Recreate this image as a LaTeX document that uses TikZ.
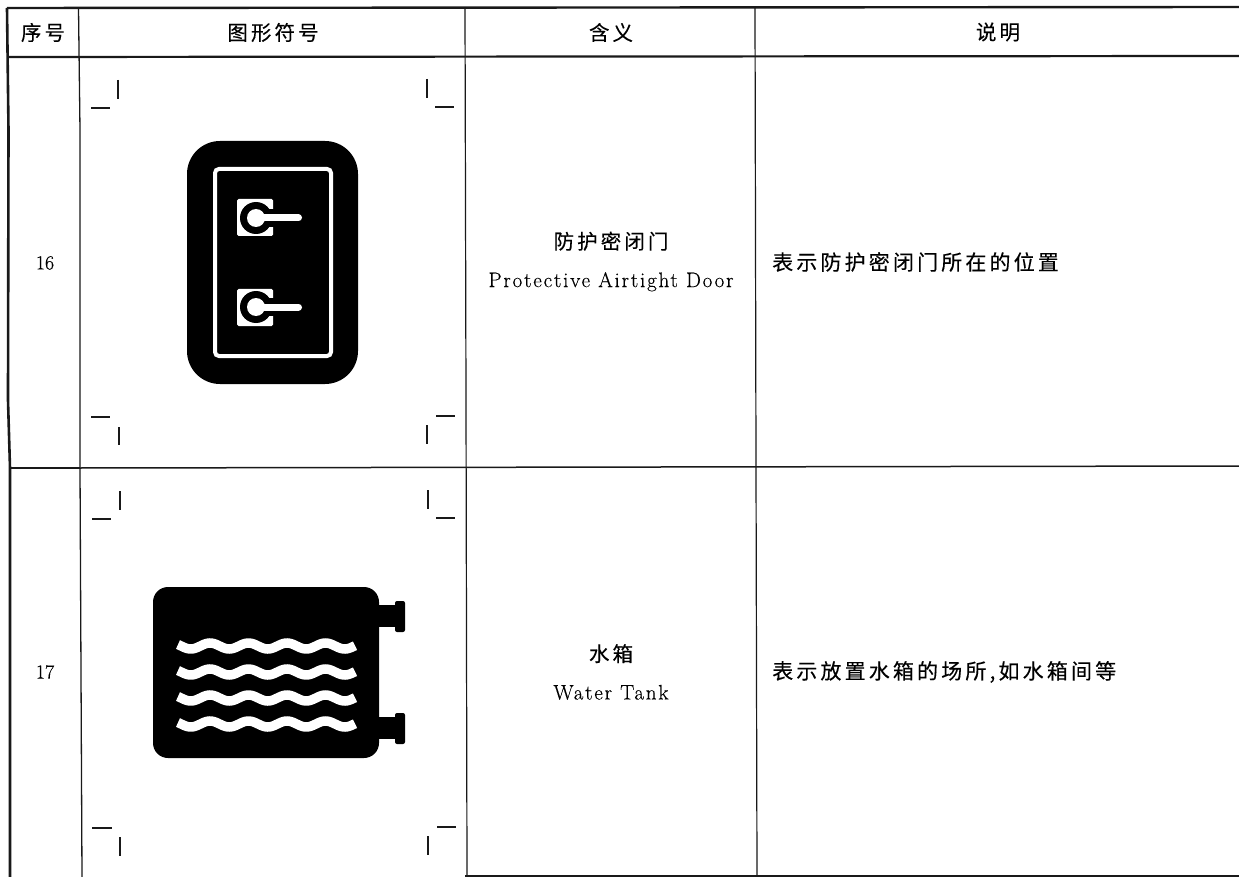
\documentclass[tikz,border=0pt]{standalone}
\usepackage{fontspec}
\newfontfamily\cjk[LetterSpace=15,FakeBold=0.25]{Noto Sans CJK SC}
\newfontfamily\lat[LetterSpace=8.5,FakeBold=0.25]{Latin Modern Roman}
\newfontfamily\digits[FakeBold=0.25]{Latin Modern Roman}
\tikzset{
  x=1pt,y=-1pt,
  rule/.style={line width=#1,black!90},
  crop/.style={line width=2pt,black!90},
  cell/.style={inner sep=0pt,align=center,black},
  hd/.style={cell,font=\cjk\fontsize{20.5}{21}\selectfont},
  num/.style={cell,font=\digits\fontsize{20}{20}\selectfont},
  two/.style={cell,font=\lat\fontsize{21}{38}\selectfont},
  note/.style={cell,anchor=west,font=\cjk\fontsize{21}{21}\selectfont},
}
\newcommand{\cn}[1]{{\cjk\fontsize{20.5}{38}\selectfont #1}}
\newcommand{\handle}[2]{%
  \fill[white,rounded corners=1.5pt] (237,#1-19) rectangle (273,#1+18);
  \fill[black] (256,#2) circle[radius=16];
  \fill[black] (256,#2-9) rectangle (276,#2+9);
  \fill[white] (256,#2) circle[radius=9];
  \draw[white,line width=7pt,line cap=round] (256,#2) -- (298.5,#2);
}
\newcommand{\wave}[1]{%
  \draw[white,line width=9.5pt] plot[domain=178:355,samples=90,smooth] (\x,{#1-3*cos(9.3506*(\x-210))});
}
\begin{document}
\begin{tikzpicture}
\useasboundingbox (0,0) rectangle (1239,877);
\fill[white] (0,0) rectangle (1239,877);
% table rules
\draw[rule=2.4pt] (1239,7) -- (7,8);
\draw[rule=2.6pt] (7,8) -- (8.5,130) -- (8,400) -- (10,468) -- (10,877);
\draw[rule=2.2pt] (8,57) -- (1239,56);
\draw[rule=1.3pt] (9,468) -- (80,468);
\draw[rule=1.5pt] (80,468) -- (1239,466);
\draw[rule=1.3pt] (78.5,8) -- (80,130) -- (80,468) -- (82,877);
\draw[rule=1.2pt] (465,8) -- (466,400) -- (467,877);
\draw[rule=1.2pt] (755,8) -- (756,466) -- (757,877);
\draw[rule=1.2pt] (465,876) -- (1239,876);
% header
\node[hd] (h1) at (43,32.5) {序号};
\node[hd] (h2) at (273,32.5) {图形符号};
\node[hd] (h3) at (611,32.5) {含义};
\node[hd] (h4) at (998,32) {说明};
% row 16
\node[num] (n16) at (45,263) {16};
\node[two] (m16) at (611,261.5) {\cn{防护密闭门}\\Protective Airtight Door};
\node[note] (d16) at (772,262) {表示防护密闭门所在的位置};
% row 17
\node[num] (n17) at (45,672) {17};
\node[two] (m17) at (611,672) {\cn{水箱}\\Water Tank};
\node[note] (d17) at (772,672) {表示放置水箱的场所,如水箱间等};
% crop marks row 16
\draw[crop] (118,80) -- (118,99);
\draw[crop] (91,108) -- (110,108);
\draw[crop] (427,79) -- (427,98);
\draw[crop] (435,107) -- (454,107);
\draw[crop] (91,417) -- (110,417);
\draw[crop] (119,427) -- (119,445);
\draw[crop] (436,416) -- (455,416);
\draw[crop] (427,425) -- (427,444);
% crop marks row 17
\draw[crop] (119.5,491) -- (119.5,510);
\draw[crop] (92,519) -- (111,519);
\draw[crop] (427.5,490) -- (427.5,509);
\draw[crop] (436,518) -- (455,518);
\draw[crop] (92,828) -- (112,828);
\draw[crop] (120,837) -- (120,856);
\draw[crop] (437,827) -- (456,827);
\draw[crop] (428,836) -- (428,855);
% door symbol
\fill[black,rounded corners=33pt] (187,141) rectangle (358,384);
\draw[white,line width=4pt,rounded corners=4pt] (215,169) rectangle (331,356);
\handle{218}{218}
\handle{308}{307}
% tank symbol
\fill[black] (379,605) rectangle (398,627);
\fill[black] (379,717) rectangle (398,739);
\fill[black,rounded corners=2pt] (395,601) rectangle (405,632);
\fill[black,rounded corners=2pt] (395,713) rectangle (405,744);
\fill[black,rounded corners=15pt] (153,587) rectangle (379,758);
\wave{646}
\wave{672}
\wave{698}
\wave{724}
\end{tikzpicture}
\end{document}
